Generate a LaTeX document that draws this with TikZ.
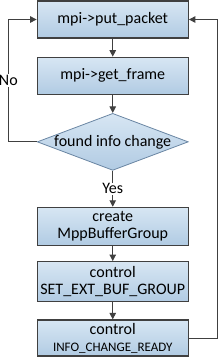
\documentclass[tikz,border=0pt]{standalone}
\usepackage{fontspec}
\setmainfont{Carlito}
\usepackage{tikz}
\usetikzlibrary{arrows.meta,positioning,shapes.geometric}
\definecolor{boxtop}{HTML}{D7E6F3}
\definecolor{boxbot}{HTML}{B1CBE3}
\definecolor{linegray}{HTML}{404040}
\definecolor{rombogris}{HTML}{6A86A3}
\begin{document}
\begin{tikzpicture}[
  caja/.style={rectangle, draw=linegray, line width=1.3pt, align=center, minimum width=151pt,
               minimum height=37pt, inner xsep=1pt, inner ysep=0pt, top color=boxtop, bottom color=boxbot,
               font=\fontsize{16}{20}\selectfont},
  rombo/.style={diamond, draw=rombogris, line width=0.8pt, minimum width=151pt, minimum height=57pt,
                aspect=3.2, inner xsep=-8pt, inner ysep=0pt, top color=boxtop, bottom color=boxbot,
                font=\fontsize{16}{20}\selectfont},
  flecha/.style={-{Triangle[length=6.5pt,width=6.5pt]}, draw=linegray, line width=1pt},
  etiqueta/.style={fill=white, inner sep=1pt, font=\fontsize{16}{20}\selectfont}]
\useasboundingbox (0,0) rectangle (218pt,-360pt);
\node[caja](put) at (112.75pt,-19.5pt){mpi->put\_packet};
\node[caja, below=18pt of put](get){mpi->get\_frame};
\node[rombo, below=18pt of get](found){found info change};
\node[caja, below=36pt of found, minimum height=38pt](create){create\\[-3pt]MppBufferGroup};
\node[caja, below=15pt of create, minimum height=40pt](setext){control\\[-3pt]SET\_EXT\_BUF\_GROUP};
\node[caja, below=17pt of setext, minimum height=36pt](ready){control\\[-3pt]{\fontsize{13}{16}\selectfont INFO\_CHANGE\_READY}};
\draw[flecha](put)--(get);
\draw[flecha](get)--(found);
\draw[flecha](found)--node[etiqueta]{Yes}(create);
\draw[flecha](create)--(setext);
\draw[flecha](setext)--(ready);
\draw[flecha](found.west)--++(-28.5pt,0)|-node[etiqueta, pos=0.25]{No}(put.west);
\draw[flecha](ready.east)--++(28.5pt,0)|-(put.east);
\end{tikzpicture}
\end{document}
